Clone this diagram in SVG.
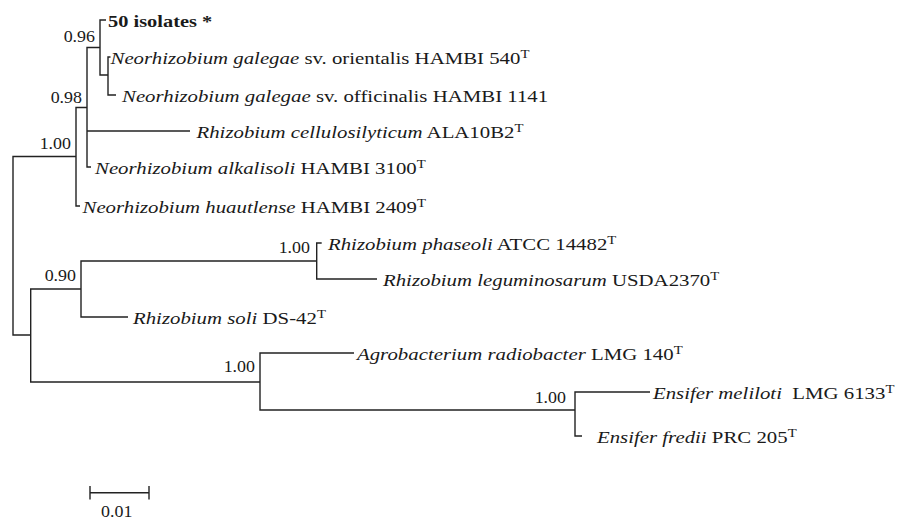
<svg xmlns="http://www.w3.org/2000/svg" width="911" height="520" viewBox="0 0 911 520">
<style>
.br{fill:none;stroke:#222;stroke-width:1.4;stroke-linejoin:miter}
.lbl{font-family:"Liberation Serif","Times New Roman",serif;font-size:17px;fill:#1a1a1a}
.bs{font-family:"Liberation Serif","Times New Roman",serif;font-size:16px;fill:#1a1a1a;text-anchor:end}
.sc{font-family:"Liberation Serif","Times New Roman",serif;font-size:16px;fill:#1a1a1a}
.it{font-style:italic}
.sup{font-size:12px}
</style>
<rect width="911" height="520" fill="#fff"/>
<g id="connectors">
<path class="br" d="M76,156.5 H13 V335 H30.7"/>
<path class="br" d="M87,107.5 H76 V206 H80"/>
<path class="br" d="M100,47.5 H87 V167 H91"/>
<path class="br" d="M87,131 H190"/>
<path class="br" d="M106,20 H100 V75 H108"/>
<path class="br" d="M110.5,57 H108 V95 H116"/>
<path class="br" d="M81,289 H30.7 V382 H260"/>
<path class="br" d="M316.7,261 H81 V317 H128"/>
<path class="br" d="M321.7,243 H316.7 V279 H377"/>
<path class="br" d="M354,353 H260 V410 H575"/>
<path class="br" d="M650,392 H575 V436 H582"/>
</g>
<g id="support">
<g id="n096"><text class="bs" transform="translate(95,42) scale(1.12,1)">0.96</text></g>
<g id="n098"><text class="bs" transform="translate(82,103) scale(1.12,1)">0.98</text></g>
<g id="n100a"><text class="bs" transform="translate(71,148.5) scale(1.12,1)">1.00</text></g>
<g id="n090"><text class="bs" transform="translate(76,281) scale(1.12,1)">0.90</text></g>
<g id="n100b"><text class="bs" transform="translate(310,252.5) scale(1.12,1)">1.00</text></g>
<g id="n100c"><text class="bs" transform="translate(255,372) scale(1.12,1)">1.00</text></g>
<g id="n100d"><text class="bs" transform="translate(566,403) scale(1.12,1)">1.00</text></g>
</g>
<g id="leaves">
<g id="isolates"><text class="lbl" transform="translate(108,27) scale(1.2,1)"><tspan font-weight="bold">50 isolates *</tspan></text></g>
<g id="orientalis"><text class="lbl" transform="translate(110.5,64) scale(1.225,1)"><tspan class="it">Neorhizobium galegae</tspan> sv. orientalis HAMBI 540<tspan class="sup" dy="-6">T</tspan></text></g>
<g id="officinalis"><text class="lbl" transform="translate(122,102) scale(1.225,1)"><tspan class="it">Neorhizobium galegae</tspan> sv. officinalis HAMBI 1141</text></g>
<g id="cellulosilyticum"><text class="lbl" transform="translate(196.5,138) scale(1.225,1)"><tspan class="it">Rhizobium cellulosilyticum</tspan> ALA10B2<tspan class="sup" dy="-6">T</tspan></text></g>
<g id="alkalisoli"><text class="lbl" transform="translate(95,174) scale(1.225,1)"><tspan class="it">Neorhizobium alkalisoli</tspan> HAMBI 3100<tspan class="sup" dy="-6">T</tspan></text></g>
<g id="huautlense"><text class="lbl" transform="translate(82.5,213) scale(1.225,1)"><tspan class="it">Neorhizobium huautlense</tspan> HAMBI 2409<tspan class="sup" dy="-6">T</tspan></text></g>
<g id="phaseoli"><text class="lbl" transform="translate(328,250) scale(1.225,1)"><tspan class="it">Rhizobium phaseoli</tspan> ATCC 14482<tspan class="sup" dy="-6">T</tspan></text></g>
<g id="leguminosarum"><text class="lbl" transform="translate(383,286) scale(1.225,1)"><tspan class="it">Rhizobium leguminosarum</tspan> USDA2370<tspan class="sup" dy="-6">T</tspan></text></g>
<g id="soli"><text class="lbl" transform="translate(133,324) scale(1.225,1)"><tspan class="it">Rhizobium soli</tspan> DS-42<tspan class="sup" dy="-6">T</tspan></text></g>
<g id="agrobacterium"><text class="lbl" transform="translate(357,360) scale(1.225,1)"><tspan class="it">Agrobacterium radiobacter</tspan> LMG 140<tspan class="sup" dy="-6">T</tspan></text></g>
<g id="meliloti"><text class="lbl" transform="translate(653,399) scale(1.225,1)"><tspan class="it">Ensifer meliloti</tspan>&#160; LMG 6133<tspan class="sup" dy="-6">T</tspan></text></g>
<g id="fredii"><text class="lbl" transform="translate(597,443) scale(1.225,1)"><tspan class="it">Ensifer fredii</tspan> PRC 205<tspan class="sup" dy="-6">T</tspan></text></g>
</g>
<g id="scalebar">
<path class="br" d="M90,492.7 H149 M90,486 V499.5 M149,486 V499.5"/>
<text class="sc" transform="translate(101,517) scale(1.12,1)">0.01</text>
</g>
</svg>
